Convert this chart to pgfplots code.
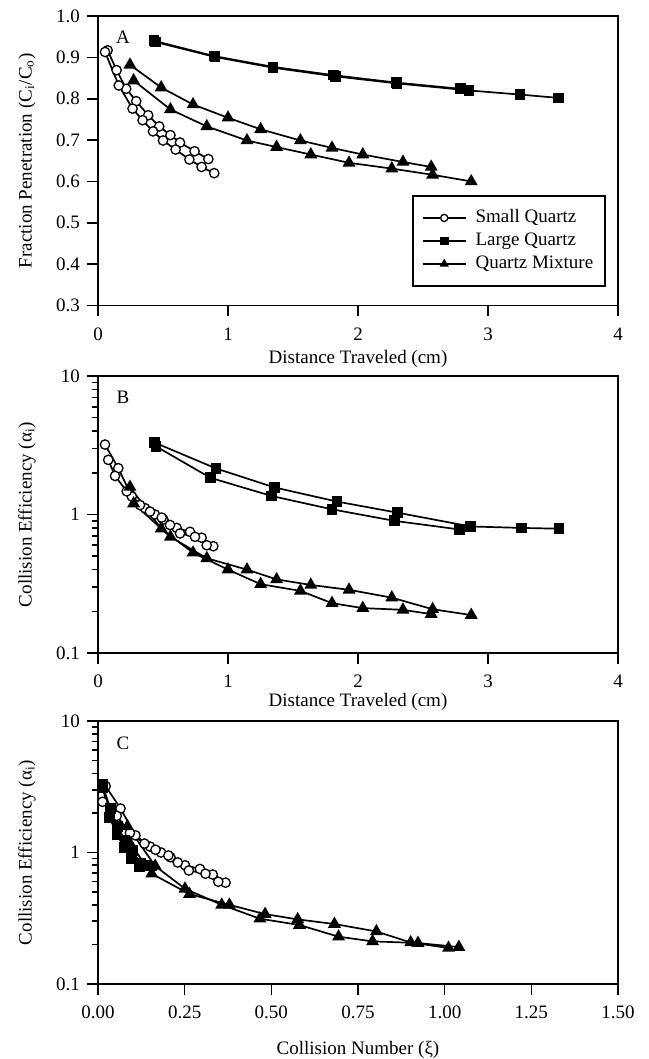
\documentclass[border=0pt]{standalone}
\usepackage{fontspec}
\setmainfont{Liberation Serif}
\usepackage{pgfplots}
\pgfplotsset{compat=1.18}

\newcommand\fnt{\fontsize{9.5}{11}\selectfont}

\pgfplotsset{
  panel/.style={
    scale only axis, width=260pt, anchor=north west,
    axis line style={line width=0.8pt},
    tick align=outside, tick pos=left,
    major tick length=5.5pt, minor tick length=3pt,
    tick style={black, line width=0.8pt},
    tick label style={font=\fnt},
    label style={font=\fnt},
    /pgf/number format/assume math mode=true,
    ylabel style={at={(axis description cs:-0.1365,0.5)}, anchor=center},
    xticklabel style={yshift=-2pt},
  },
  sq/.style={black, line width=0.85pt, mark=*, mark size=2.35pt, mark options={fill=white, line width=0.65pt}},
  lq/.style={black, line width=0.85pt, mark=square*, mark size=2.25pt},
  qm/.style={black, line width=0.85pt, mark=triangle*, mark size=2.9pt},
  logpanel/.style={
    ymin=0.1, ymax=10,
    ytick={0.1,1,10}, yticklabels={0.1,1,10},
    minor ytick={0.2,0.3,0.4,0.5,0.6,0.7,0.8,0.9,2,3,4,5,6,7,8,9},
    ylabel={Collision Efficiency (α\textsubscript{i})},
  },
}

\begin{document}
\begin{tikzpicture}
\useasboundingbox (0,0) rectangle (324pt,-529.5pt);

% ---------------- A ----------------
\begin{axis}[panel, at={(49pt,-8pt)}, height=144.75pt,
  xmin=0, xmax=4, ymin=0.3, ymax=1.0,
  xtick={0,1,2,3,4},
  ytick={0.3,0.4,0.5,0.6,0.7,0.8,0.9,1.0},
  yticklabel style={/pgf/number format/.cd, fixed, fixed zerofill, precision=1},
  xlabel={Distance Traveled (cm)},
  xlabel style={at={(axis description cs:0.5,-0.183)}, anchor=center},
  ylabel={Fraction Penetration (C\textsubscript{i}/C\textsubscript{o})},
  legend cell align=left,
  legend image code/.code={\draw[mark repeat=2, mark phase=2, #1, mark size=1.8pt] plot coordinates {(0pt,0pt) (10.75pt,0pt) (21.5pt,0pt)};},
  legend style={at={(rel axis cs:0.977,0.065)}, anchor=south east,
    draw=black, line width=0.8pt, font=\fnt,
    inner xsep=4.5pt, inner ysep=5.2pt, column sep=3pt, row sep=0pt,
    nodes={inner sep=1.5pt, text height=6.5pt, text depth=2pt}},
]
\addplot[sq] coordinates {(0.074,0.917)(0.143,0.869)(0.217,0.824)(0.294,0.794)(0.386,0.760)(0.471,0.733)(0.557,0.712)(0.631,0.694)(0.743,0.673)(0.849,0.654)};
\addlegendentry{Small Quartz}
\addplot[lq] coordinates {(0.443,0.937)(0.900,0.901)(1.346,0.875)(1.826,0.854)(2.300,0.837)(2.854,0.820)(3.246,0.810)(3.540,0.802)};
\addlegendentry{Large Quartz}
\addplot[qm] coordinates {(0.246,0.882)(0.486,0.827)(0.731,0.786)(1.000,0.754)(1.251,0.726)(1.557,0.699)(1.800,0.681)(2.037,0.665)(2.346,0.647)(2.563,0.635)};
\addlegendentry{Quartz Mixture}
\addplot[sq, forget plot] coordinates {(0.054,0.913)(0.160,0.832)(0.266,0.776)(0.343,0.748)(0.423,0.721)(0.500,0.699)(0.597,0.677)(0.703,0.653)(0.797,0.635)(0.894,0.620)};
\addplot[lq, forget plot] coordinates {(0.431,0.940)(0.894,0.903)(1.346,0.877)(1.809,0.857)(2.294,0.839)(2.786,0.824)};
\addplot[qm, forget plot] coordinates {(0.274,0.844)(0.557,0.774)(0.837,0.733)(1.146,0.699)(1.374,0.683)(1.637,0.665)(1.931,0.645)(2.260,0.631)(2.574,0.616)(2.871,0.600)};
\node[font=\fnt] at (rel axis cs:0.048,0.927) {A};
\end{axis}

% ---------------- B ----------------
\begin{axis}[panel, ymode=log, logpanel, at={(49pt,-188pt)}, height=138.5pt,
  xmin=0, xmax=4, xtick={0,1,2,3,4},
  xlabel={Distance Traveled (cm)},
  xlabel style={at={(axis description cs:0.5,-0.177)}, anchor=center},
]
\addplot[sq] coordinates {(0.054,3.20)(0.156,2.16)(0.260,1.35)(0.362,1.11)(0.438,1.00)(0.503,0.92)(0.605,0.80)(0.708,0.75)(0.797,0.68)(0.887,0.59)};
\addplot[sq] coordinates {(0.079,2.48)(0.131,1.90)(0.221,1.47)(0.323,1.17)(0.400,1.05)(0.490,0.95)(0.554,0.84)(0.631,0.73)(0.746,0.69)(0.836,0.60)};
\addplot[lq] coordinates {(0.434,3.31)(0.908,2.15)(1.356,1.57)(1.838,1.24)(2.306,1.03)(2.865,0.82)(3.257,0.80)(3.546,0.79)};
\addplot[lq] coordinates {(0.445,3.11)(0.865,1.84)(1.336,1.36)(1.800,1.09)(2.280,0.90)(2.780,0.78)};
\addplot[qm] coordinates {(0.246,1.58)(0.486,0.79)(0.731,0.53)(1.000,0.40)(1.251,0.314)(1.557,0.281)(1.800,0.229)(2.037,0.211)(2.346,0.205)(2.563,0.191)};
\addplot[qm] coordinates {(0.274,1.20)(0.557,0.69)(0.837,0.483)(1.146,0.40)(1.374,0.34)(1.637,0.31)(1.931,0.286)(2.260,0.251)(2.574,0.207)(2.871,0.188)};
\node[font=\fnt] at (rel axis cs:0.048,0.924) {B};
\end{axis}

% ---------------- C ----------------
\begin{axis}[panel, ymode=log, logpanel, at={(49pt,-360.5pt)}, height=131.5pt,
  xmin=0, xmax=1.5, xtick={0,0.25,0.5,0.75,1,1.25,1.5},
  xticklabel style={/pgf/number format/.cd, fixed, fixed zerofill, precision=2},
  xlabel={Collision Number (ξ)},
  xlabel style={at={(axis description cs:0.5,-0.251)}, anchor=center},
]
\addplot[sq] coordinates {(0.022,3.20)(0.065,2.16)(0.108,1.35)(0.150,1.11)(0.182,1.00)(0.209,0.92)(0.251,0.80)(0.294,0.75)(0.331,0.68)(0.368,0.59)};
\addplot[sq] coordinates {(0.013,2.43)(0.054,1.90)(0.092,1.41)(0.134,1.17)(0.166,1.05)(0.203,0.95)(0.230,0.84)(0.262,0.73)(0.310,0.69)(0.347,0.60)};
\addplot[lq] coordinates {(0.012,3.31)(0.036,2.15)(0.056,1.57)(0.078,1.24)(0.099,1.03)(0.124,0.82)(0.141,0.80)(0.155,0.79)};
\addplot[lq] coordinates {(0.014,3.11)(0.034,1.84)(0.055,1.36)(0.076,1.09)(0.097,0.90)(0.120,0.78)};
\addplot[qm] coordinates {(0.085,1.58)(0.165,0.79)(0.251,0.53)(0.357,0.40)(0.467,0.314)(0.581,0.281)(0.694,0.229)(0.792,0.211)(0.923,0.205)(1.041,0.191)};
\addplot[qm] coordinates {(0.090,1.20)(0.155,0.69)(0.264,0.483)(0.379,0.40)(0.482,0.34)(0.576,0.31)(0.682,0.286)(0.803,0.251)(0.902,0.207)(1.011,0.188)};
\node[font=\fnt] at (rel axis cs:0.048,0.915) {C};
\end{axis}
\end{tikzpicture}
\end{document}
